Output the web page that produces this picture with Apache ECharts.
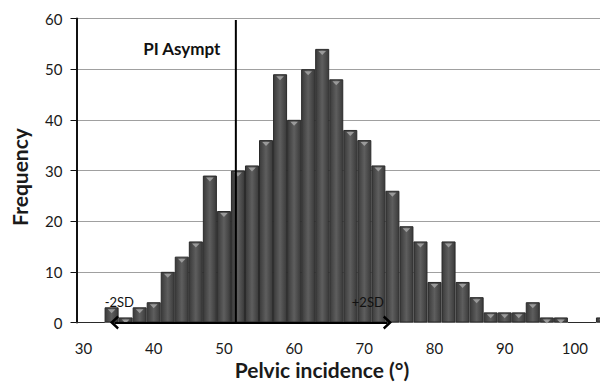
<!DOCTYPE html>
<html><head><meta charset="utf-8">
<script src="https://cdn.jsdelivr.net/npm/echarts@6/dist/echarts.min.js"></script>
<style>html,body{margin:0;padding:0;background:#fff}#c{width:600px;height:383px}</style>
</head><body><div id="c"></div>
<script>
// bin labels (degrees), 2-degree bins
const binLabels = [30,32,34,36,38,40,42,44,46,48,50,52,54,56,58,60,62,64,66,68,70,72,74,76,78,80,82,84,86,88,90,92,94,96,98,100,102,104];
const frequency = [0,0,3,1,3,4,10,13,16,29,22,30,31,36,49,40,50,54,48,38,36,31,26,19,16,8,16,8,5,2,2,2,4,1,1,0,0,1];
const yTicks = [0,10,20,30,40,50,60];
const asymptPI = 51.7;          // vertical reference line
const sdRange = [34.4, 73.3];   // -2SD .. +2SD arrow
const annotations = [
  {name: 'PI Asympt', value: [44.0, 54]},
  {name: '-2SD', value: [35.1, 4]},
  {name: '+2SD', value: [70.5, 4]}
];
const xTitle = 'Pelvic incidence (°)';
const yTitle = 'Frequency';

const FONT = 'Lato';
const chart = echarts.init(document.getElementById('c'), null, {renderer: 'svg'});
const barFill = new echarts.graphic.LinearGradient(0, 0, 1, 0, [
  {offset: 0, color: '#3a3a3a'}, {offset: 0.5, color: '#5e5e5e'}, {offset: 1, color: '#3a3a3a'}
]);
chart.setOption({
  animation: false,
  backgroundColor: '#fff',
  textStyle: {fontFamily: FONT},
  title: {
    text: xTitle, left: 322, top: 359, textAlign: 'center', padding: 0,
    textStyle: {fontFamily: FONT, fontSize: 21, fontWeight: 'bold', color: '#1a1a1a'}
  },
  grid: {left: 76.5, width: 533.5, top: 18.5, bottom: 60.5, containLabel: false, outerBoundsMode: 'none'},
  xAxis: [{
    type: 'category', data: binLabels, boundaryGap: true,
    axisLine: {lineStyle: {color: '#9a9a9a', width: 1}},
    axisTick: {interval: 4, length: 5, lineStyle: {color: '#9a9a9a'}},
    axisLabel: {interval: 4, margin: 18, fontSize: 15, color: '#1a1a1a', fontFamily: FONT},
    splitLine: {show: false}
  }, {
    type: 'value', min: 29, max: 105, show: false
  }],
  yAxis: {
    type: 'value', min: yTicks[0], max: yTicks[yTicks.length - 1], interval: 10,
    name: yTitle, nameLocation: 'middle', nameRotate: 90, nameGap: 47,
    nameTextStyle: {fontFamily: FONT, fontSize: 21, fontWeight: 'bold', color: '#1a1a1a', padding: [0, 13, 0, 0]},
    axisLine: {show: true, lineStyle: {color: '#111', width: 2}},
    axisTick: {show: true, length: 6, lineStyle: {color: '#111', width: 1}},
    axisLabel: {margin: 14, fontSize: 15, color: '#1a1a1a', fontFamily: FONT},
    splitLine: {show: true, lineStyle: {color: '#a0a0a0', width: 1.2}}
  },
  series: [{
    type: 'bar', data: frequency, barCategoryGap: '0%',
    itemStyle: {color: barFill, borderColor: '#2a2a2a', borderWidth: 1}
  }, {
    type: 'pictorialBar', data: frequency.map(v => v > 0 ? v : '-'),
    symbol: 'triangle', symbolRotate: 180, symbolSize: ['78%', 4],
    symbolPosition: 'end', symbolOffset: [0, 2], z: 3,
    itemStyle: {color: '#9a9a9a'}, silent: true
  }, {
    type: 'line', xAxisIndex: 1, data: [[asymptPI, 0], [asymptPI, 59.7]],
    symbol: 'none', lineStyle: {color: '#000', width: 2}, z: 4,
    markLine: {
      silent: true, symbol: ['path://M0,10 L10,0 L20,10 L17,12 L10,5 L3,12 Z', 'path://M0,10 L10,0 L20,10 L17,12 L10,5 L3,12 Z'],
      symbolSize: [14, 9],
      lineStyle: {color: '#000', width: 2, type: 'solid'},
      label: {show: false},
      data: [[{coord: [sdRange[0], 0]}, {coord: [sdRange[1], 0]}]]
    }
  }, {
    type: 'scatter', xAxisIndex: 1, symbolSize: 0, z: 5,
    itemStyle: {opacity: 1},
    data: annotations.map((a, i) => ({
      name: a.name, value: a.value,
      label: {
        show: true, position: 'inside', formatter: '{b}', color: '#111', opacity: 1, fontFamily: FONT,
        fontSize: i === 0 ? 17 : 13, fontWeight: i === 0 ? 'bold' : 'normal'
      }
    }))
  }]
});
</script></body></html>
